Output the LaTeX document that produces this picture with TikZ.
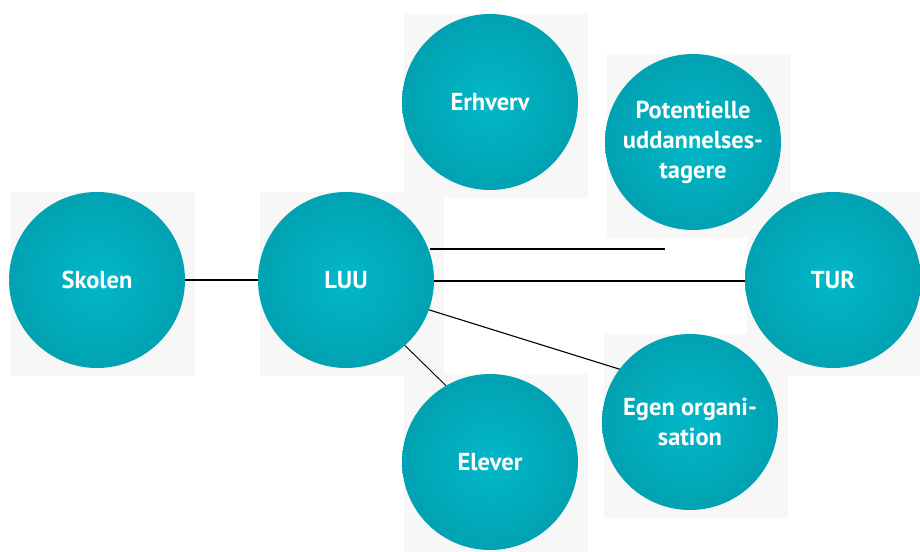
\documentclass[tikz,border=0pt]{standalone}
\usepackage{fontspec}
\setmainfont{PT Sans}
\usetikzlibrary{arrows}
\definecolor{tealin}{RGB}{2,184,200}
\definecolor{tealout}{RGB}{0,152,168}
\definecolor{backgray}{RGB}{247,247,247}
\pgfdeclareradialshading{tealball}{\pgfpoint{0bp}{0bp}}{color(0bp)=(tealin); color(36bp)=(tealout); color(50bp)=(tealout)}

\begin{document}
\begin{tikzpicture}[x=1pt,y=-1pt]
    \tikzset{vertex/.style = {shape=circle, shading=tealball, minimum size=176pt, inner sep=0pt,
        text=white, font=\fontsize{24.5}{30}\selectfont\bfseries, align=center}}
    \tikzset{backsq/.style = {shape=rectangle, fill=backgray, minimum size=184pt, inner sep=0pt, xshift=6pt, yshift=-4pt}}
    \tikzset{edge/.style = {draw=black, line width=1.4pt, -}}

    \useasboundingbox (0,0) rectangle (920,551);

    % squares
    \node[backsq] (skolensq) at (97,280) {};
    \node[backsq] (luusq) at (346,280) {};
    \node[backsq] (erhvervsq) at (490,102) {};
    \node[backsq] (potsq) at (693,142) {};
    \node[backsq] (tursq) at (833,280) {};
    \node[backsq] (egensq) at (690,422) {};
    \node[backsq] (eleversq) at (490,462) {};

    % edges
    \coordinate (free) at (665,249);
    \coordinate (luuup) at (430,249);
    \coordinate (egenend) at (680,388);
    \draw[edge] (97,280) -- (346,280);
    \draw[edge, line width=1.2pt] (346,281) -- (833,281);
    \draw[edge, line width=2pt] (luuup) -- (free);
    \draw[edge, line width=1.1pt] (346,284) -- (egenend);

    % vertices
    \node[vertex] (skolen) at (97,280) {Skolen};
    \node[vertex] (luu) at (346,280) {LUU};
    \node[vertex] (erhverv) at (490,102) {Erhverv};
    \node[vertex] (pot) at (693,142) {Potentielle\\uddannelses-\\tagere};
    \node[vertex] (tur) at (833,280) {TUR};
    \node[vertex] (egen) at (690,422) {Egen organi-\\sation};
    \node[vertex] (elever) at (490,462) {Elever};

    % edges on top
    \draw[edge, line width=0.9pt] (luu.-48) -- (elever.120);
    \draw[black!40, dotted, line width=0.6pt] (egen.155) -- (egenend);
\end{tikzpicture}
\end{document}
